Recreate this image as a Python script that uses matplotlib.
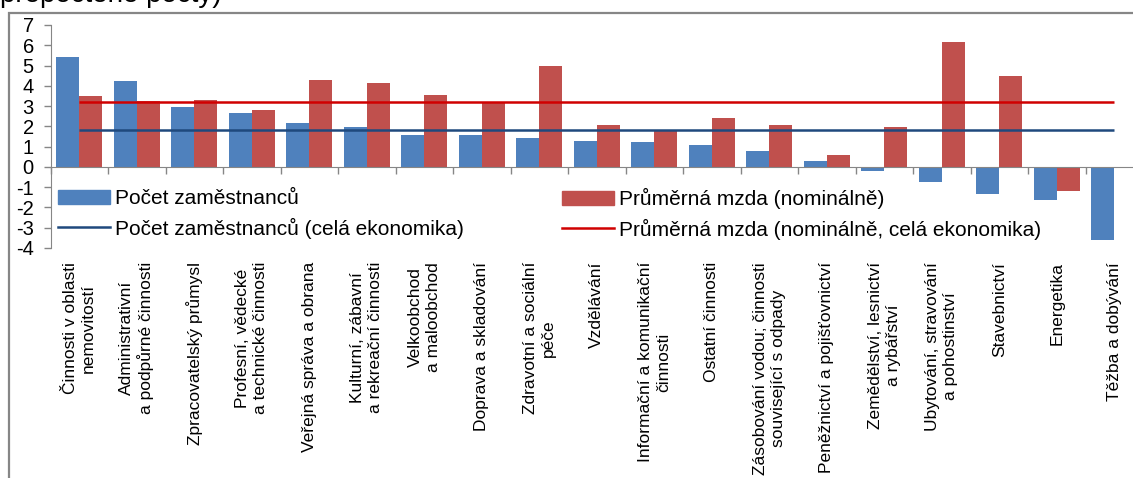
import numpy as np
import matplotlib
matplotlib.use("Agg")
import matplotlib.pyplot as plt
from matplotlib.patches import Rectangle, Patch
from matplotlib.lines import Line2D

plt.rcParams['font.family'] = ['Liberation Sans', 'DejaVu Sans']
plt.rcParams['axes.unicode_minus'] = False

categories = [
    "Činnosti v oblasti\nnemovitostí",
    "Administrativní\na podpůrné činnosti",
    "Zpracovatelský průmysl",
    "Profesní, vědecké\na technické činnosti",
    "Veřejná správa a obrana",
    "Kulturní, zábavní\na rekreační činnosti",
    "Velkoobchod\na maloobchod",
    "Doprava a skladování",
    "Zdravotní a sociální\npéče",
    "Vzdělávání",
    "Informační a komunikační\nčinnosti",
    "Ostatní činnosti",
    "Zásobování vodou; činnosti\nsouvisející s odpady",
    "Peněžnictví a pojišťovnictví",
    "Zemědělství, lesnictví\na rybářství",
    "Ubytování, stravování\na pohostinství",
    "Stavebnictví",
    "Energetika",
    "Těžba a dobývání",
]
zamestnanci = [5.40, 4.23, 2.95, 2.68, 2.19, 1.99, 1.56, 1.56, 1.45, 1.30,
               1.23, 1.10, 0.79, 0.28, -0.21, -0.72, -1.35, -1.61, -3.62]
mzda = [3.50, 3.25, 3.30, 2.83, 4.28, 4.16, 3.57, 3.22, 4.97, 2.06,
        1.80, 2.39, 2.06, 0.59, 1.99, 6.17, 4.46, -1.18, 0.0]
zam_celkem = 1.83
mzda_celkem = 3.21

labels = ["Počet zaměstnanců", "Počet zaměstnanců (celá ekonomika)",
          "Průměrná mzda (nominálně)", "Průměrná mzda (nominálně, celá ekonomika)"]

W, H = 1133, 478
c_blue = '#4F81BD'
c_red = '#C0504D'
c_blue_line = '#1F497D'
c_red_line = '#D00000'
c_grey = '#868686'

fig = plt.figure(figsize=(W / 100, H / 100), dpi=100)
ax = fig.add_axes([50.5 / W, (H - 248) / H, 1092.5 / W, 223 / H])

n = len(categories)
x = np.arange(n)
ax.bar(x - 0.2, zamestnanci, width=0.4, color=c_blue, zorder=2)
ax.bar(x + 0.2, mzda, width=0.4, color=c_red, zorder=2)
ax.hlines(zam_celkem, x[0], x[-1], color=c_blue_line, lw=1.8, zorder=3)
ax.hlines(mzda_celkem, x[0], x[-1], color=c_red_line, lw=1.8, zorder=3)

ax.set_xlim(-0.5, n - 0.5)
ax.set_ylim(-4, 7)
ax.set_yticks(range(-4, 8))
ax.tick_params(axis='y', direction='out', length=5, color=c_grey, width=1,
               labelsize=14.5, pad=7)

for s in ['top', 'right']:
    ax.spines[s].set_visible(False)
ax.spines['left'].set_color(c_grey)
ax.spines['bottom'].set_color(c_grey)
ax.spines['bottom'].set_position(('data', 0))

ax.set_xticks(x)
ax.set_xticklabels(categories, rotation=90, ha='center', va='top',
                   multialignment='center', fontsize=12.5, linespacing=1.25)
ax.tick_params(axis='x', which='major', length=0, pad=68.5)
ax.set_xticks(np.arange(n + 1) - 0.5, minor=True)
ax.tick_params(axis='x', which='minor', direction='out', length=5,
               color=c_grey, width=1)

h_blue = Patch(color=c_blue)
h_red = Patch(color=c_red)
h_bline = Line2D([], [], color=c_blue_line, lw=1.8)
h_rline = Line2D([], [], color=c_red_line, lw=1.8)
kw = dict(loc='center left', bbox_transform=fig.transFigure, frameon=False,
          borderpad=0, borderaxespad=0, handlelength=2.5, handletextpad=0.24,
          labelspacing=0.45, fontsize=15)
leg1 = ax.legend([h_blue, h_bline], labels[:2],
                 bbox_to_anchor=(58 / W, 1 - 214 / H), **kw)
ax.add_artist(leg1)
ax.legend([h_red, h_rline], labels[2:],
          bbox_to_anchor=(562 / W, 1 - 214 / H), **kw)

# outer chart frame
fig.patches.append(Rectangle((8.5 / W, -0.1), 1.2, 1.1 - 13.5 / H,
                             transform=fig.transFigure, fill=False,
                             edgecolor=c_grey, lw=1.6))

fig.text(0, 1 - 2.5 / H, "přepočtené počty)", fontsize=20, va='baseline',
         ha='left')

plt.savefig("out.png", dpi=100)
